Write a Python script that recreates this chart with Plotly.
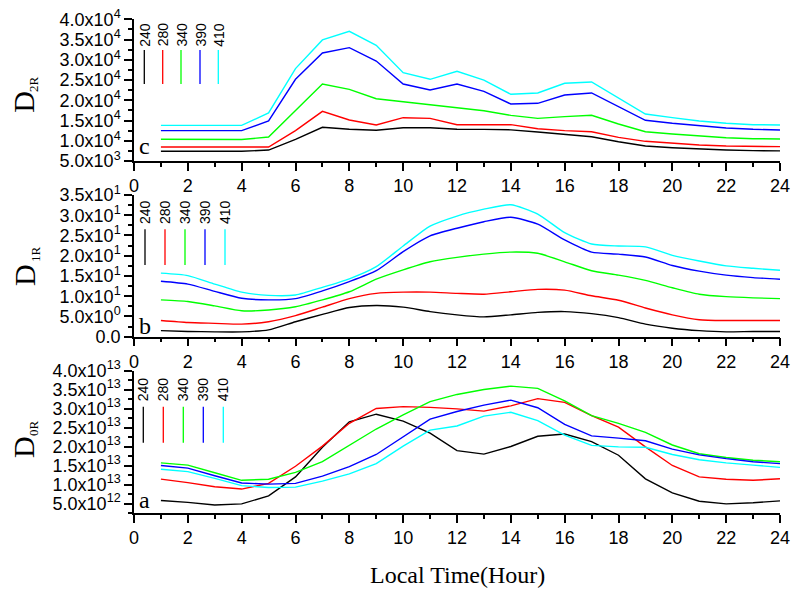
import plotly.graph_objects as go

hours = list(range(1, 25))
series_names = ["240", "280", "340", "390", "410"]
colors = ["#000000", "#FF0000", "#00FF00", "#0000FF", "#00FFFF"]

# Panel c : D2R
c240 = [7400, 7400, 7400, 7400, 7700, 10360, 13320, 12830, 12580, 13230, 13230, 12830,
        12800, 12700, 12160, 11590, 11000, 9770, 8700, 8290, 7960, 7720, 7560, 7500]
c280 = [8460, 8460, 8460, 8460, 8460, 12500, 17270, 15130, 13890, 15700, 15540, 13970,
        13970, 13970, 12980, 12500, 12240, 10850, 9860, 9370, 8950, 8700, 8540, 8540]
c340 = [10360, 10360, 10300, 10300, 10930, 17600, 24020, 22700, 20390, 19650, 18900, 18170,
        17420, 16280, 15540, 15950, 16280, 14140, 12240, 11670, 11180, 10760, 10510, 10440]
c390 = [12500, 12500, 12500, 12500, 14880, 25180, 31680, 33000, 29700, 24020, 22540, 24020,
        22200, 19080, 19250, 21300, 21800, 18420, 15050, 14310, 13650, 13150, 12830, 12660]
c410 = [13810, 13810, 13810, 13810, 16860, 27820, 34900, 37040, 33580, 26810, 25180, 27150,
        25000, 21470, 21800, 24190, 24510, 20560, 16610, 15700, 14880, 14310, 13970, 13890]

# Panel b : D1R
b240 = [1.5, 1.3, 1.2, 1.2, 1.7, 3.7, 5.5, 7.2, 7.7, 7.3, 6.2, 5.4,
        4.9, 5.4, 6.0, 6.2, 5.7, 4.7, 3.1, 2.1, 1.5, 1.2, 1.3, 1.3]
b280 = [4.0, 3.5, 3.3, 3.1, 3.7, 5.2, 7.3, 9.4, 10.7, 11.0, 11.0, 10.7,
        10.5, 11.1, 11.7, 11.5, 10.1, 9.0, 7.1, 5.4, 4.2, 4.0, 4.0, 4.0]
b340 = [9.1, 8.7, 7.6, 6.4, 6.6, 7.4, 9.1, 11.1, 14.2, 16.5, 18.5, 19.6,
        20.4, 20.9, 20.6, 18.5, 16.3, 15.2, 13.9, 12.1, 10.5, 9.9, 9.6, 9.4]
b390 = [13.7, 13.0, 11.2, 9.5, 9.1, 9.4, 11.3, 13.6, 16.3, 21.0, 24.9, 26.8,
        28.4, 29.5, 27.8, 23.9, 20.9, 20.4, 19.7, 17.6, 16.2, 15.2, 14.6, 14.2]
b410 = [15.7, 15.1, 13.0, 11.0, 10.2, 10.3, 12.2, 14.3, 17.3, 22.4, 27.3, 29.8,
        31.5, 32.6, 30.3, 25.7, 22.9, 22.4, 22.2, 20.1, 18.7, 17.5, 16.9, 16.4]

# Panel a : D0R (units of 1e13)
a240 = [0.58, 0.53, 0.46, 0.49, 0.70, 1.20, 1.98, 2.65, 2.85, 2.67, 2.35, 1.89,
        1.80, 2.00, 2.27, 2.33, 2.13, 1.77, 1.15, 0.78, 0.56, 0.49, 0.52, 0.57]
a280 = [1.14, 1.05, 0.94, 0.88, 1.03, 1.48, 2.01, 2.61, 3.00, 3.05, 3.03, 2.99,
        2.93, 3.07, 3.26, 3.16, 2.81, 2.51, 1.99, 1.50, 1.20, 1.14, 1.11, 1.15]
a340 = [1.57, 1.51, 1.31, 1.11, 1.14, 1.32, 1.60, 2.04, 2.46, 2.83, 3.18, 3.37,
        3.50, 3.59, 3.53, 3.20, 2.81, 2.61, 2.37, 2.04, 1.81, 1.71, 1.64, 1.60]
a390 = [1.50, 1.43, 1.23, 1.04, 1.01, 1.03, 1.22, 1.47, 1.79, 2.26, 2.72, 2.92,
        3.09, 3.22, 3.02, 2.58, 2.28, 2.22, 2.15, 1.93, 1.78, 1.68, 1.60, 1.55]
a410 = [1.40, 1.34, 1.16, 0.97, 0.92, 0.93, 1.09, 1.28, 1.55, 2.01, 2.43, 2.54,
        2.80, 2.90, 2.68, 2.30, 2.03, 1.99, 1.98, 1.79, 1.65, 1.57, 1.51, 1.45]
a_scale = 1e13

x_ticks = list(range(0, 25, 2))
c_ticks = [5000, 10000, 15000, 20000, 25000, 30000, 35000, 40000]
c_labels = ["5.0x10<sup>3</sup>", "1.0x10<sup>4</sup>", "1.5x10<sup>4</sup>", "2.0x10<sup>4</sup>",
            "2.5x10<sup>4</sup>", "3.0x10<sup>4</sup>", "3.5x10<sup>4</sup>", "4.0x10<sup>4</sup>"]
b_ticks = [0, 5, 10, 15, 20, 25, 30, 35]
b_labels = ["0.0", "5.0x10<sup>0</sup>", "1.0x10<sup>1</sup>", "1.5x10<sup>1</sup>",
            "2.0x10<sup>1</sup>", "2.5x10<sup>1</sup>", "3.0x10<sup>1</sup>", "3.5x10<sup>1</sup>"]
a_ticks = [5e12, 1e13, 1.5e13, 2e13, 2.5e13, 3e13, 3.5e13, 4e13]
a_labels = ["5.0x10<sup>12</sup>", "1.0x10<sup>13</sup>", "1.5x10<sup>13</sup>", "2.0x10<sup>13</sup>",
            "2.5x10<sup>13</sup>", "3.0x10<sup>13</sup>", "3.5x10<sup>13</sup>", "4.0x10<sup>13</sup>"]

W, H = 793, 589
ML, MR = 134, 13
PW = W - ML - MR


def px_x(p):
    return (p - ML) / PW


def px_y(p):
    return 1 - p / H


fig = go.Figure()

panels = [
    ("x", "y", [c240, c280, c340, c390, c410], 1, "linear"),
    ("x2", "y2", [b240, b280, b340, b390, b410], 1, "spline"),
    ("x3", "y3", [a240, a280, a340, a390, a410], a_scale, "linear"),
]
for xa, ya, data, scale, shape in panels:
    for name, col, vals in zip(series_names, colors, data):
        fig.add_trace(go.Scatter(
            x=hours, y=[v * scale for v in vals], mode="lines", name=name,
            xaxis=xa, yaxis=ya,
            line=dict(color=col, width=1.4, shape=shape, smoothing=0.6),
            showlegend=False, hoverinfo="skip"))

tickfont = dict(family="Liberation Sans, Arial, sans-serif", size=18, color="black")

def xaxis_cfg(anchor):
    return dict(anchor=anchor, domain=[0, 1], range=[0, 24], tickvals=x_ticks,
                ticks="outside", ticklen=8, tickwidth=1.5, tickcolor="black",
                showline=True, linecolor="black", linewidth=1.5, showgrid=False,
                zeroline=False, tickfont=tickfont, automargin=False,
                minor=dict(dtick=1, tick0=0, ticks="outside", ticklen=4, tickwidth=1.5,
                           tickcolor="black", showgrid=False))

def yaxis_cfg(anchor, dom, rng, tv, tt, mdt, m0):
    return dict(anchor=anchor, domain=dom, range=rng, tickvals=tv, ticktext=tt,
                ticks="outside", ticklen=8, tickwidth=1.5, tickcolor="black",
                showline=True, linecolor="black", linewidth=1.5, showgrid=False,
                zeroline=False, tickfont=tickfont, automargin=False,
                minor=dict(dtick=mdt, tick0=m0, ticks="outside", ticklen=4, tickwidth=1.5,
                           tickcolor="black", showgrid=False))

fig.update_layout(
    width=W, height=H,
    margin=dict(l=ML, r=MR, t=0, b=0, autoexpand=False),
    plot_bgcolor="white", paper_bgcolor="white",
    showlegend=False,
    xaxis=xaxis_cfg("y"),
    xaxis2=xaxis_cfg("y2"),
    xaxis3=xaxis_cfg("y3"),
    yaxis=yaxis_cfg("x", [px_y(161), px_y(19.3)], [5000, 40000], c_ticks, c_labels, 2500, 5000),
    yaxis2=yaxis_cfg("x2", [px_y(336.7), px_y(195)], [0, 35], b_ticks, b_labels, 2.5, 0),
    yaxis3=yaxis_cfg("x3", [px_y(513), px_y(370.5)], [2.5e12, 4e13], a_ticks, a_labels, 2.5e12, 2.5e12),
)

serif = "Liberation Serif, Times New Roman, serif"
sans = "Liberation Sans, Arial, sans-serif"
ann = []
shapes = []

# y axis titles
for main_y, sub, sub_x, sub_y in [(101.7, "2R", 33, 84), (275, "1R", 35, 254), (447, "0R", 33, 428)]:
    ann.append(dict(x=px_x(24), y=px_y(main_y), xref="paper", yref="paper", text="D",
                    showarrow=False, textangle=-90, xanchor="center", yanchor="middle",
                    font=dict(family=serif, size=30, color="black")))
    ann.append(dict(x=px_x(sub_x), y=px_y(sub_y), xref="paper", yref="paper", text=sub,
                    showarrow=False, textangle=-90, xanchor="center", yanchor="middle",
                    font=dict(family=serif, size=13, color="black")))

# panel letters
for letter, ly in [("c", 146.5), ("b", 326), ("a", 500)]:
    ann.append(dict(x=px_x(137), y=px_y(ly), xref="paper", yref="paper", text=letter,
                    showarrow=False, xanchor="left", yanchor="middle",
                    font=dict(family=serif, size=24, color="black")))

# in-panel legends
legend_specs = [
    ([144.3, 162.7, 181, 200, 218.3], 34.5, 50, 84),
    ([145, 165, 185, 205, 225], 212, 229.3, 265),
    ([143.3, 163.3, 183.3, 203.3, 223.3], 389, 406.7, 442.7),
]
for xs, ty, l0, l1 in legend_specs:
    for name, col, xp in zip(series_names, colors, xs):
        ann.append(dict(x=px_x(xp), y=px_y(ty), xref="paper", yref="paper", text=name,
                        showarrow=False, textangle=-90, xanchor="center", yanchor="middle",
                        font=dict(family=sans, size=14, color="black")))
        shapes.append(dict(type="line", xref="paper", yref="paper",
                           x0=px_x(xp), x1=px_x(xp), y0=px_y(l0), y1=px_y(l1),
                           line=dict(color=col, width=1.3)))

# x axis title
ann.append(dict(x=px_x(457), y=px_y(575), xref="paper", yref="paper", text="Local Time(Hour)",
                showarrow=False, xanchor="center", yanchor="middle",
                font=dict(family=serif, size=24, color="black")))

fig.update_layout(annotations=ann, shapes=shapes)
fig.write_html("out.html", config={"displayModeBar": False},
               post_script="document.body.style.margin='0';document.body.style.overflow='hidden';")
